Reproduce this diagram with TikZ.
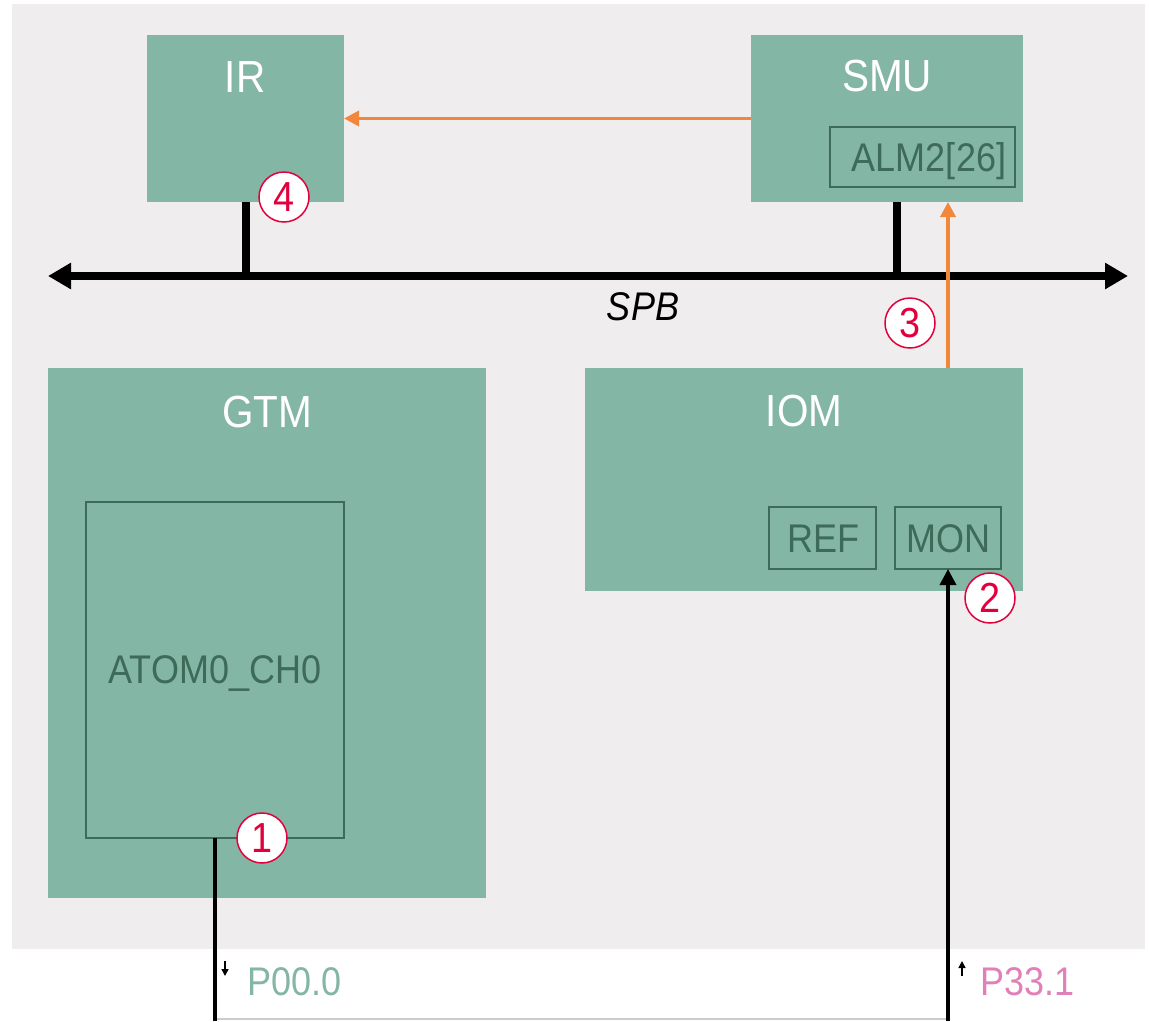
\documentclass[tikz,border=0pt]{standalone}
\usepackage{fontspec}
\setmainfont{Liberation Sans}[FakeStretch=0.9]
\usetikzlibrary{arrows.meta}
\definecolor{bg}{HTML}{EFEDEE}
\definecolor{boxc}{HTML}{84B6A6}
\definecolor{innerc}{HTML}{3E6A5A}
\definecolor{orng}{HTML}{F0873A}
\definecolor{redc}{HTML}{E2003C}
\definecolor{pinkc}{HTML}{E080B6}
\definecolor{grayline}{HTML}{CCCCCC}
\begin{document}
\begin{tikzpicture}[x=1pt,y=-1pt,
  blk/.style={fill=boxc, draw=none, inner sep=0pt, outer sep=0pt, anchor=north west},
  sub/.style={draw=innerc, line width=2pt, fill=none, inner sep=0pt, outer sep=0pt, anchor=north west},
  title/.style={text=white, font=\fontsize{45}{54}\selectfont, anchor=base, inner sep=0pt},
  lbl/.style={text=innerc, font=\fontsize{40}{48}\selectfont, anchor=base, inner sep=0pt},
  num/.style={circle, draw=redc, line width=1.5pt, fill=white, minimum size=50pt, inner sep=0pt, text=redc, font=\fontsize{42}{50}\selectfont},
  orarrow/.style={draw=orng, line width=3.5pt, -{Triangle[length=15pt,width=15pt]}},
  sig/.style={draw=black, line width=3.5pt},
  pinlbl/.style={font=\fontsize{40}{48}\selectfont, anchor=base west, inner sep=0pt},
  pinarrow/.style={draw=black, line width=1.5pt, -{Triangle[length=7pt,width=7pt]}},
]
\useasboundingbox (0,0) rectangle (1149,1021);
\fill[bg] (12,4) rectangle (1145,949);

% blocks
\node[blk, minimum width=197pt, minimum height=167pt] (ir) at (147,35) {};
\node[blk, minimum width=272pt, minimum height=167pt] (smu) at (751,35) {};
\node[blk, minimum width=438pt, minimum height=530pt] (gtm) at (48,368) {};
\node[blk, minimum width=438pt, minimum height=223pt] (iom) at (585,368) {};

% sub blocks
\node[sub, minimum width=185pt, minimum height=60pt] (alm) at (830,127) {};
\node[sub, minimum width=258pt, minimum height=336pt] (atom) at (86,502) {};
\node[sub, minimum width=107pt, minimum height=62pt] (ref) at (769,507) {};
\node[sub, minimum width=106pt, minimum height=62pt] (mon) at (895,507) {};

% titles
\node[title] (irt) at (245,92) {IR};
\node[title] (smut) at (887,91) {SMU};
\node[title] (gtmt) at (267,427) {GTM};
\node[title] (iomt) at (804,426) {IOM};
\node[lbl] (almt) at (929,171) {ALM2[26]};
\node[lbl] (atomt) at (215,683) {ATOM0\_CH0};
\node[lbl] (reft) at (823,552) {REF};
\node[lbl] (mont) at (948,552) {MON};

% bus
\coordinate (bl) at (48,276);
\coordinate (br) at (1128,276);
\coordinate (smustub) at (897,202);
\draw[line width=8pt, {Triangle[length=23pt,width=25pt]}-{Triangle[length=23pt,width=25pt]}] (bl) -- (br);
\draw[line width=8pt] (ir.south) -- (ir.south |- bl);
\draw[line width=8pt] (smustub) -- (smustub |- bl);
\node[font=\fontsize{40}{48}\selectfont\itshape, anchor=base, inner sep=0pt] (spb) at (643,320) {SPB};

% orange connectors
\draw[orarrow] (smu.west) -- (ir.east);
\draw[orarrow] (mon.north |- iom.north) -- (mon.north |- smu.south);

% signal lines
\coordinate (bot) at (0,1021);
\coordinate (gl) at (0,1019);
\draw[grayline, line width=1.5pt] (atom.south |- gl) -- (mon.south |- gl);
\draw[sig] (atom.south) -- (atom.south |- bot);
\draw[sig, -{Triangle[length=16pt,width=16pt]}] (mon.south |- bot) -- (mon.south);

% pins
\coordinate (pa1) at (225,961);
\coordinate (pa2) at (225,976);
\coordinate (pb1) at (962,976);
\coordinate (pb2) at (962,961);
\draw[pinarrow] (pa1) -- (pa2);
\draw[pinarrow] (pb1) -- (pb2);
\node[pinlbl, text=boxc] (p00) at (247,995) {P00.0};
\node[pinlbl, text=pinkc] (p33) at (980,995) {P33.1};

% numbers
\node[num] (n4) at (284,197) {4};
\node[num] (n3) at (910,323) {3};
\node[num] (n1) at (262,838) {1};
\node[num] (n2) at (990,598) {2};
\end{tikzpicture}
\end{document}
